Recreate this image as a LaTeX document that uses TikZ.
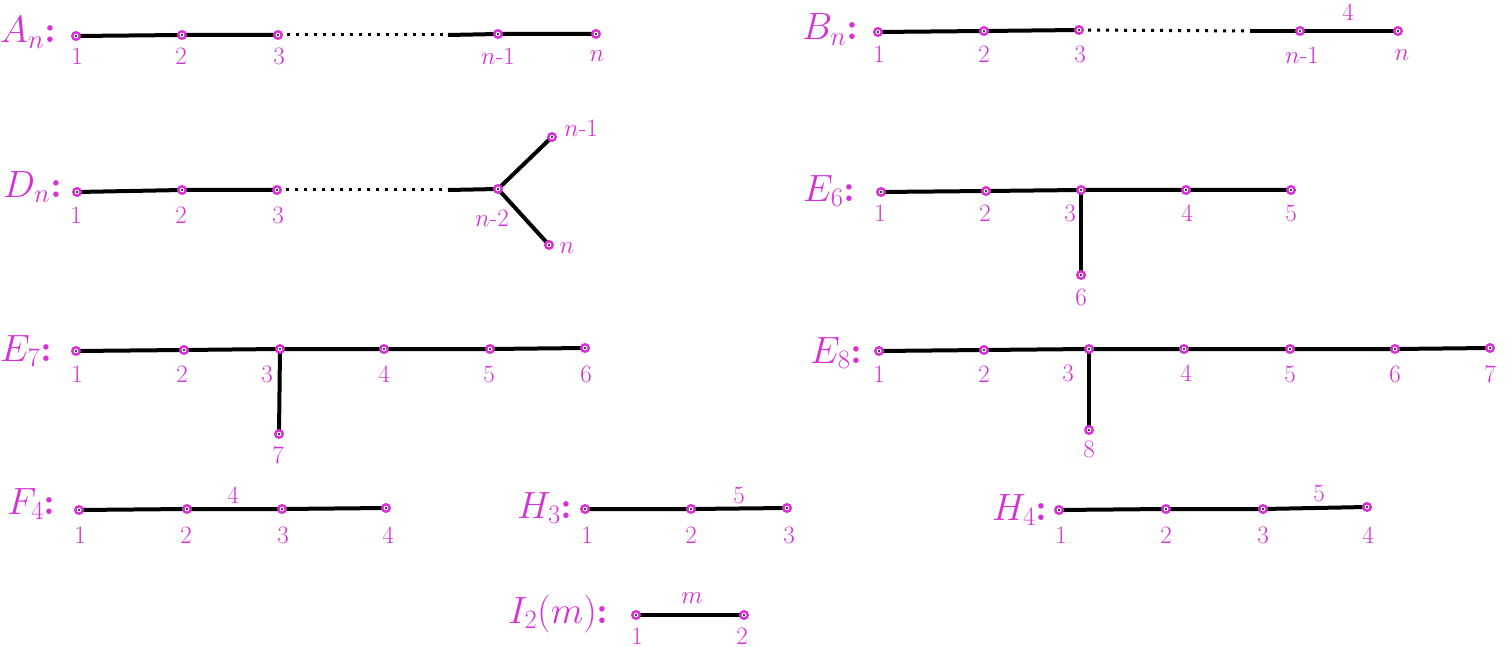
\RequirePackage{fix-cm}
\documentclass[tikz,border=0pt]{standalone}
\usetikzlibrary{backgrounds}
\definecolor{mag}{RGB}{214,48,214}

\begin{document}
\begin{tikzpicture}[
x=1pt, y=-1pt,
vert/.style={
circle,
draw=mag,
fill=white,
line width=2.4pt,
inner sep=0pt,
minimum size=7.5pt,
path picture={\fill[black] (path picture bounding box.center) circle (1.1pt);},
},
lab/.style={
text=mag,
inner sep=0pt,
font=\fontsize{25}{28}\selectfont,
},
ttl/.style={
text=mag,
inner sep=0pt,
anchor=base west,
font=\fontsize{38}{42}\selectfont,
},
myedge/.style={
line width=4pt,
},
dotedge/.style={
line width=3pt,
dash pattern=on 3pt off 6pt,
},
]
\useasboundingbox (0,0) rectangle (1506,647);

% A_n
\node[ttl] (ta) at (0,43) {$A_n${\bfseries:}};
\node[vert] (a1) at (76,36) {};
\node[vert] (a2) at (182,35) {};
\node[vert] (a3) at (278,35) {};
\node[vert] (a4) at (498,34) {};
\node[vert] (a5) at (596,34) {};
\coordinate (ad) at (448,35);
\node[lab] at (77,56) {1};
\node[lab] at (181,56) {2};
\node[lab] at (279,56) {3};
\node[lab] at (498,56) {$n$-1};
\node[lab] at (597,56) {$n$};

% B_n
\node[ttl] (tb) at (802,40) {$B_n${\bfseries:}};
\node[vert] (b1) at (878,32) {};
\node[vert] (b2) at (984,31) {};
\node[vert] (b3) at (1079,30) {};
\node[vert] (b4) at (1300,31) {};
\node[vert] (b5) at (1398,31) {};
\coordinate (bd) at (1250,31);
\node[lab] at (1348,12) {4};
\node[lab] at (879,54) {1};
\node[lab] at (984,54) {2};
\node[lab] at (1080,54) {3};
\node[lab] at (1302,55) {$n$-1};
\node[lab] at (1402,55) {$n$};

% D_n
\node[ttl] (td) at (3,197) {$D_n${\bfseries:}};
\node[vert] (d1) at (77,192) {};
\node[vert] (d2) at (182,190) {};
\node[vert] (d3) at (277,190) {};
\node[vert] (d4) at (498,189) {};
\node[vert] (d5) at (552,137) {};
\node[vert] (d6) at (549,245) {};
\coordinate (dd) at (448,190);
\node[lab] at (76,215) {1};
\node[lab] at (181,215) {2};
\node[lab] at (278,215) {3};
\node[lab] at (492,218) {$n$-2};
\node[lab] at (581,128) {$n$-1};
\node[lab] at (567,248) {$n$};

% E_6
\node[ttl] (te6) at (803,201) {$E_6${\bfseries:}};
\node[vert] (e1) at (881,192) {};
\node[vert] (e2) at (986,191) {};
\node[vert] (e3) at (1081,190) {};
\node[vert] (e4) at (1186,190) {};
\node[vert] (e5) at (1291,190) {};
\node[vert] (e6) at (1081,275) {};
\node[lab] at (880,213) {1};
\node[lab] at (985,213) {2};
\node[lab] at (1070,213) {3};
\node[lab] at (1187,213) {4};
\node[lab] at (1291,213) {5};
\node[lab] at (1081,297) {6};

% E_7
\node[ttl] (te7) at (0,361) {$E_7${\bfseries:}};
\node[vert] (f1) at (76,351) {};
\node[vert] (f2) at (184,350) {};
\node[vert] (f3) at (280,349) {};
\node[vert] (f4) at (384,349) {};
\node[vert] (f5) at (490,349) {};
\node[vert] (f6) at (585,348) {};
\node[vert] (f7) at (279,434) {};
\node[lab] at (77,374) {1};
\node[lab] at (182,374) {2};
\node[lab] at (267,374) {3};
\node[lab] at (384,374) {4};
\node[lab] at (489,374) {5};
\node[lab] at (586,374) {6};
\node[lab] at (278,455) {7};

% E_8
\node[ttl] (te8) at (810,363) {$E_8${\bfseries:}};
\node[vert] (g1) at (879,351) {};
\node[vert] (g2) at (984,350) {};
\node[vert] (g3) at (1089,349) {};
\node[vert] (g4) at (1184,349) {};
\node[vert] (g5) at (1290,349) {};
\node[vert] (g6) at (1395,349) {};
\node[vert] (g7) at (1490,348) {};
\node[vert] (g8) at (1089,430) {};
\node[lab] at (879,374) {1};
\node[lab] at (984,374) {2};
\node[lab] at (1068,373) {3};
\node[lab] at (1186,373) {4};
\node[lab] at (1290,374) {5};
\node[lab] at (1395,374) {6};
\node[lab] at (1490,374) {7};
\node[lab] at (1089,449) {8};

% F_4
\node[ttl] (tf) at (7,514) {$F_4${\bfseries:}};
\node[vert] (h1) at (79,510) {};
\node[vert] (h2) at (187,509) {};
\node[vert] (h3) at (282,509) {};
\node[vert] (h4) at (386,508) {};
\node[lab] at (233,495) {4};
\node[lab] at (80,535) {1};
\node[lab] at (186,535) {2};
\node[lab] at (283,535) {3};
\node[lab] at (388,535) {4};

% H_3
\node[ttl] (th3) at (517,518) {$H_3${\bfseries:}};
\node[vert] (i1) at (585,509) {};
\node[vert] (i2) at (691,509) {};
\node[vert] (i3) at (787,508) {};
\node[lab] at (739,495) {5};
\node[lab] at (587,535) {1};
\node[lab] at (691,535) {2};
\node[lab] at (789,535) {3};

% H_4
\node[ttl] (th4) at (992,520) {$H_4${\bfseries:}};
\node[vert] (j1) at (1059,510) {};
\node[vert] (j2) at (1166,509) {};
\node[vert] (j3) at (1263,509) {};
\node[vert] (j4) at (1367,507) {};
\node[lab] at (1319,493) {5};
\node[lab] at (1061,535) {1};
\node[lab] at (1166,535) {2};
\node[lab] at (1263,535) {3};
\node[lab] at (1368,535) {4};

% I_2(m)
\node[ttl] (ti) at (508,623) {$I_2(m)${\bfseries:}};
\node[vert] (k1) at (636,615) {};
\node[vert] (k2) at (744,615) {};
\node[lab] at (692,598) {$m$};
\node[lab] at (637,636) {1};
\node[lab] at (742,636) {2};

\begin{scope}[on background layer]
\draw[myedge] (a1.center) -- (a2.center) -- (a3.center);
\draw[dotedge] (a3.center) -- (ad);
\draw[myedge] (ad) -- (a4.center) -- (a5.center);

\draw[myedge] (b1.center) -- (b2.center) -- (b3.center);
\draw[dotedge] (b3.center) -- (bd);
\draw[myedge] (bd) -- (b4.center) -- (b5.center);

\draw[myedge] (d1.center) -- (d2.center) -- (d3.center);
\draw[dotedge] (d3.center) -- (dd);
\draw[myedge] (dd) -- (d4.center) -- (d5.center);
\draw[myedge] (d4.center) -- (d6.center);

\draw[myedge] (e1.center) -- (e2.center) -- (e3.center) -- (e4.center) -- (e5.center);
\draw[myedge] (e3.center) -- (e6.center);

\draw[myedge] (f1.center) -- (f2.center) -- (f3.center) -- (f4.center) -- (f5.center) -- (f6.center);
\draw[myedge] (f3.center) -- (f7.center);

\draw[myedge] (g1.center) -- (g2.center) -- (g3.center) -- (g4.center) -- (g5.center) -- (g6.center) -- (g7.center);
\draw[myedge] (g3.center) -- (g8.center);

\draw[myedge] (h1.center) -- (h2.center) -- (h3.center) -- (h4.center);
\draw[myedge] (i1.center) -- (i2.center) -- (i3.center);
\draw[myedge] (j1.center) -- (j2.center) -- (j3.center) -- (j4.center);
\draw[myedge] (k1.center) -- (k2.center);
\end{scope}

\end{tikzpicture}
\end{document}
